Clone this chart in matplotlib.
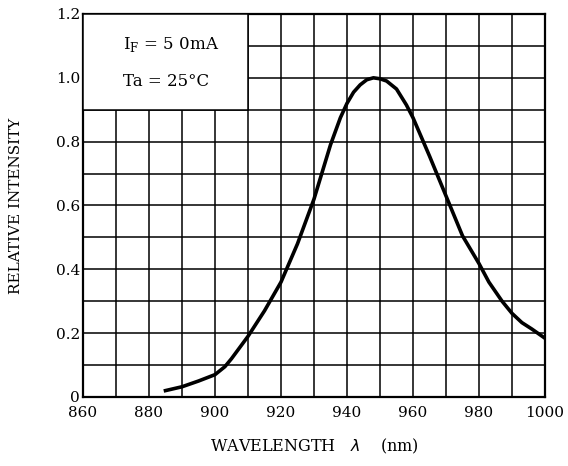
import numpy as np
import matplotlib.pyplot as plt
from matplotlib.patches import Rectangle

# spectrum
wavelength = [885, 890, 895, 900, 903, 905, 910, 915, 920, 925, 930, 935, 938,
              940, 942, 944, 946, 948, 950, 952, 955, 958, 960, 965, 970, 975,
              980, 983, 987, 990, 993, 996, 1000]
intensity = [0.02, 0.032, 0.05, 0.07, 0.095, 0.12, 0.19, 0.27, 0.36, 0.48, 0.62,
             0.79, 0.875, 0.92, 0.955, 0.978, 0.994, 1.0, 0.997, 0.99, 0.965,
             0.915, 0.875, 0.755, 0.63, 0.505, 0.418, 0.36, 0.30, 0.262, 0.233,
             0.213, 0.184]

x_ticks = list(range(860, 1001, 20))
y_ticks = [0, 0.2, 0.4, 0.6, 0.8, 1.0, 1.2]
y_labels = ['0', '0.2', '0.4', '0.6', '0.8', '1.0', '1.2']

plt.rcParams['font.family'] = 'DejaVu Serif'

fig = plt.figure(figsize=(5.68, 4.66), dpi=100)
ax = fig.add_axes([0.1461, 0.1481, 0.8134, 0.8219])

ax.set_xlim(860, 1000)
ax.set_ylim(0, 1.2)
ax.set_xticks(x_ticks)
ax.set_yticks(y_ticks)
ax.set_yticklabels(y_labels)
ax.set_xticks(np.arange(860, 1001, 10), minor=True)
ax.set_yticks(np.arange(0, 1.21, 0.1), minor=True)
ax.grid(which='both', color='black', linewidth=1.1)
ax.tick_params(which='both', length=0, labelsize=11)
ax.tick_params(axis='x', pad=6.5)
ax.tick_params(axis='y', pad=2)
ax.set_axisbelow(True)
for s in ax.spines.values():
    s.set_linewidth(1.6)

ax.plot(wavelength, intensity, color='black', linewidth=2.6, zorder=5)

# condition box in upper left
ax.add_patch(Rectangle((860, 0.9), 50, 0.3, facecolor='white',
                       edgecolor='black', linewidth=1.1, zorder=3))
ax.text(872, 1.103, r'I$_{\mathregular{F}}$ = 5 0mA', fontsize=12, zorder=4,
        va='center')
ax.text(872, 0.987, 'Ta = 25°C', fontsize=12, zorder=4, va='center')

ax.set_xlabel(r'WAVELENGTH   $\lambda$    (nm)', fontsize=11.5)
ax.xaxis.set_label_coords(0.5, -0.105)
ax.set_ylabel('RELATIVE INTENSITY', fontsize=11)
ax.yaxis.set_label_coords(-0.13, 0.5)

fig.savefig('out.png', dpi=100)
